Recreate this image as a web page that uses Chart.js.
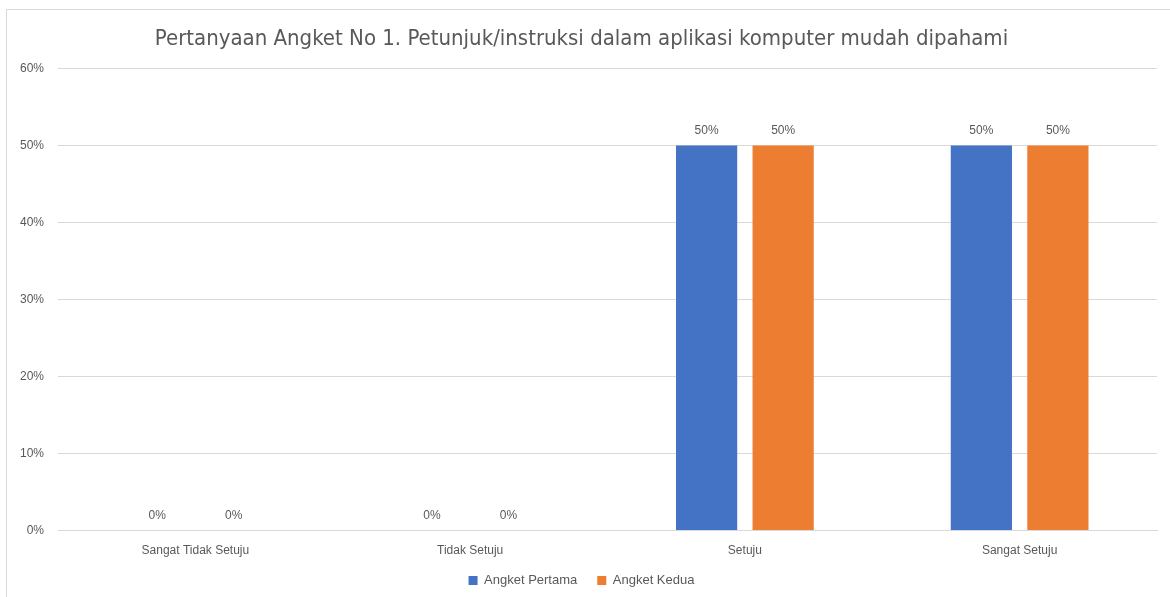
<!DOCTYPE html>
<html>
<head>
<meta charset="utf-8">
<script src="https://cdn.jsdelivr.net/npm/chart.js@4"></script>
<style>
  html, body { margin: 0; padding: 0; background: #fff; }
  #wrap { position: relative; width: 1170px; height: 597px; overflow: hidden; }
  #frame { position: absolute; left: 6px; top: 9px; width: 1200px; height: 620px; border: 1.5px solid #d9d9d9; box-sizing: border-box; }
  #box { position: absolute; left: 0; top: 0; width: 1170px; height: 597px; }
</style>
</head>
<body>
<div id="wrap">
  <div id="frame"></div>
  <div id="box"><canvas id="barChart"></canvas></div>
</div>
<script>
(function () {
    "use strict";

    var categories = [ "Sangat Tidak Setuju", "Tidak Setuju", "Setuju", "Sangat Setuju" ];
    var angketPertama = [ 0, 0, 0.5, 0.5 ];
    var angketKedua = [ 0, 0, 0.5, 0.5 ];
    var yTicks = [ 0, 0.1, 0.2, 0.3, 0.4, 0.5, 0.6 ];

    var pct = function (v) { return Math.round(v * 100) + "%"; };

    // value labels above each bar
    var valueLabels = {
        id: "valueLabels",
        afterDatasetsDraw: function (chart) {
            var c = chart.ctx;
            c.save();
            c.font = "12px 'Liberation Sans'";
            c.fillStyle = "#595959";
            c.textAlign = "center";
            c.textBaseline = "middle";
            chart.data.datasets.forEach(function (ds, i) {
                chart.getDatasetMeta(i).data.forEach(function (bar, j) {
                    c.fillText(pct(ds.data[j]), bar.x, bar.y - 15);
                });
            });
            c.restore();
        }
    };

    // x axis box is squeezed so the legend sits closer; keep its labels unclipped
    var unclipX = {
        id: "unclipX",
        afterLayout: function (chart) {
            chart.scales.x.bottom += 17;
        }
    };

    var ctx = document.getElementById("barChart");
    new Chart(ctx, {
        type: "bar",
        data: {
            labels: categories,
            datasets: [
                {
                    label: "Angket Pertama",
                    data: angketPertama,
                    backgroundColor: "#4472C4",
                    categoryPercentage: 0.557,
                    barPercentage: 0.8
                },
                {
                    label: "Angket Kedua",
                    data: angketKedua,
                    backgroundColor: "#ED7D31",
                    categoryPercentage: 0.557,
                    barPercentage: 0.8
                }
            ]
        },
        options: {
            responsive: true,
            maintainAspectRatio: false,
            animation: false,
            layout: {
                padding: { left: 6, right: 13, top: 26, bottom: 0 }
            },
            plugins: {
                title: {
                    display: true,
                    text: "Pertanyaan Angket No 1. Petunjuk/instruksi dalam aplikasi komputer mudah dipahami",
                    color: "#595959",
                    font: { family: "'Liberation Sans Narrow', 'DejaVu Sans Condensed', 'Liberation Sans'", size: 22, weight: "normal" },
                    padding: { top: 0, bottom: 16 }
                },
                legend: {
                    position: "bottom",
                    labels: {
                        boxWidth: 9,
                        boxHeight: 9,
                        color: "#595959",
                        font: { family: "'Liberation Sans'", size: 13 },
                        padding: 20
                    }
                },
                tooltip: { enabled: false }
            },
            scales: {
                x: {
                    grid: { display: false, drawTicks: false },
                    border: { color: "#d9d9d9", width: 1 },
                    ticks: {
                        color: "#595959",
                        font: { family: "'Liberation Sans'", size: 12 },
                        padding: 13,
                        maxRotation: 0
                    },
                    afterFit: function (axis) {
                        axis.height -= 17;
                    }
                },
                y: {
                    min: 0,
                    max: 0.6,
                    afterBuildTicks: function (axis) {
                        axis.ticks = yTicks.map(function (v) { return { value: v }; });
                    },
                    grid: { color: "#d9d9d9", drawTicks: false },
                    border: { display: false },
                    ticks: {
                        color: "#595959",
                        font: { family: "'Liberation Sans'", size: 12 },
                        padding: 14,
                        callback: function (v) { return pct(v); }
                    }
                }
            }
        },
        plugins: [ valueLabels, unclipX ]
    });
})();
</script>
</body>
</html>
